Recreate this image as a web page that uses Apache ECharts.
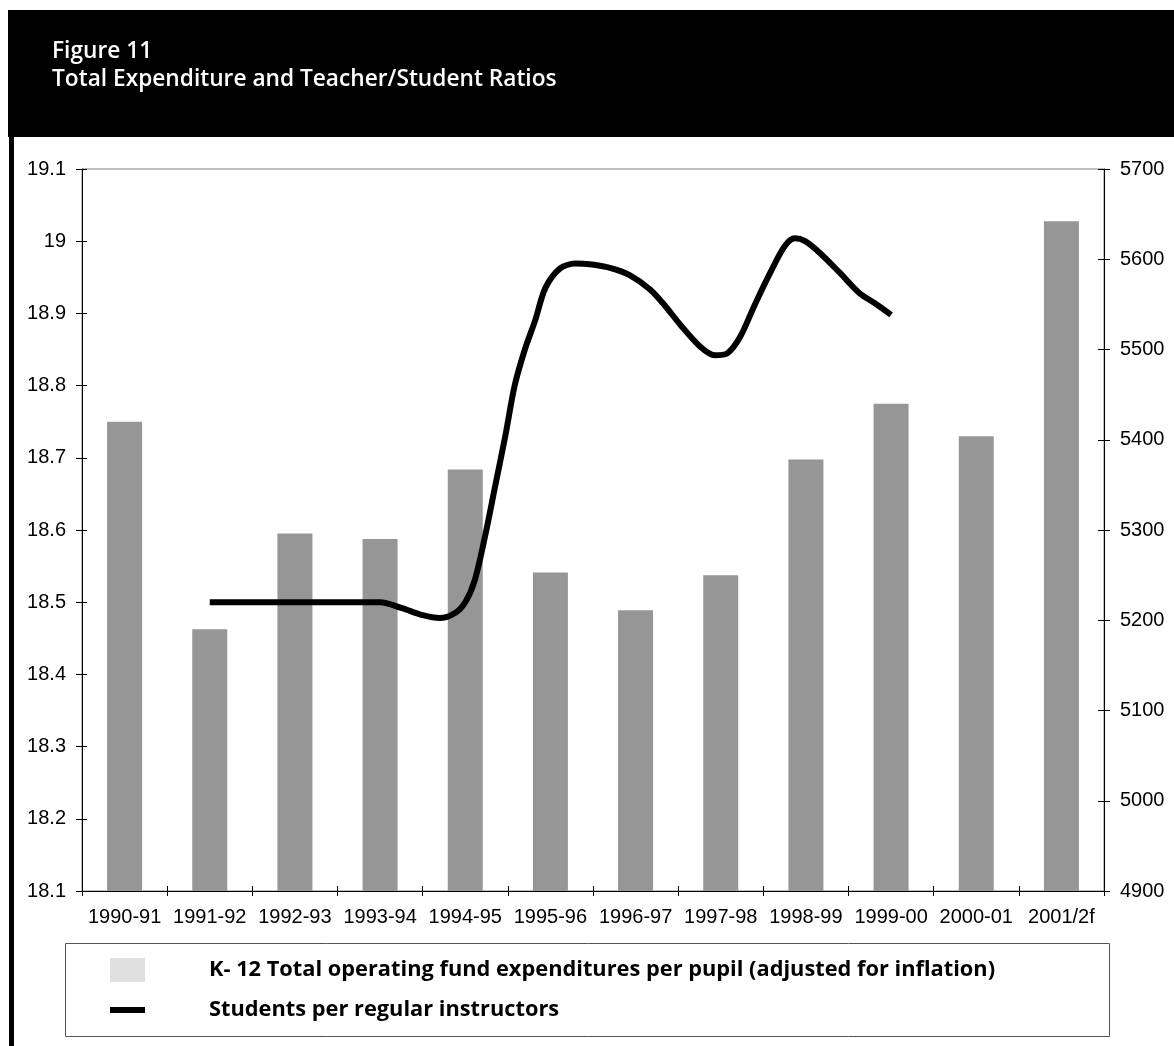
<!DOCTYPE html>
<html>
<head>
<meta charset="utf-8">
<script src="https://cdn.jsdelivr.net/npm/echarts@6/dist/echarts.min.js"></script>
<style>
html,body{margin:0;padding:0;background:#fff;}
#chart{width:1174px;height:1046px;}
</style>
</head>
<body>
<div id="chart"></div>
<script>
// ---- data ----
const categories = ['1990-91','1991-92','1992-93','1993-94','1994-95','1995-96','1996-97','1997-98','1998-99','1999-00','2000-01','2001/2f'];
const expenditure = [5420, 5190, 5296, 5290, 5367, 5253, 5211, 5250, 5378, 5440, 5404, 5642];
// students per regular instructor, traced along the category axis (position in category units, 0.5 = centre of first category)
const ratioPos = [1.5, 2.5, 3.5, 3.75, 4.0, 4.2, 4.38, 4.5, 4.61, 4.73, 4.85, 4.97, 5.08, 5.2, 5.32, 5.44, 5.61, 5.79, 5.96, 6.2, 6.43, 6.67, 6.85, 7.02, 7.25, 7.43, 7.58, 7.73, 7.9, 8.08, 8.25, 8.37, 8.49, 8.67, 8.9, 9.13, 9.31, 9.5];
const ratioVal = [18.50, 18.50, 18.50, 18.492, 18.482, 18.478, 18.485, 18.50, 18.53, 18.59, 18.66, 18.73, 18.80, 18.85, 18.89, 18.935, 18.962, 18.969, 18.968, 18.963, 18.953, 18.933, 18.91, 18.885, 18.855, 18.842, 18.845, 18.868, 18.912, 18.956, 18.993, 19.004, 19.0, 18.983, 18.956, 18.928, 18.914, 18.898];
const leftAxis = {min: 18.1, max: 19.1, interval: 0.1};
const rightAxis = {min: 4900, max: 5700, interval: 100};
const titleLines = ['Figure 11', 'Total Expenditure and Teacher/Student Ratios'];
const seriesNames = ['K- 12 Total operating fund expenditures per pupil (adjusted for inflation)', 'Students per regular instructors'];

const lineData = ratioPos.map((p, i) => [p, ratioVal[i]]);

const chart = echarts.init(document.getElementById('chart'), null, {renderer: 'canvas'});
const tickFont = {color: '#000', fontFamily: '"Liberation Sans", Arial, sans-serif', fontSize: 20};
const legendFont = {color: '#000', fontFamily: '"Open Sans", sans-serif', fontWeight: 700, fontSize: 21.8};

chart.setOption({
  animation: false,
  backgroundColor: '#fff',
  graphic: [
    {type: 'rect', z: -10, shape: {x: 8, y: 10, width: 1166, height: 127}, style: {fill: '#000'}},
    {type: 'rect', z: -10, shape: {x: 9, y: 137, width: 5, height: 909}, style: {fill: '#000'}},
    {type: 'rect', z: -5, shape: {x: 65.5, y: 943.5, width: 1044, height: 93}, style: {fill: 'none', stroke: '#555', lineWidth: 1}}
  ],
  title: {
    text: titleLines.join('\n'),
    left: 47, top: 33,
    textStyle: {color: '#fff', fontFamily: '"Open Sans", sans-serif', fontWeight: 600, fontSize: 22.7, lineHeight: 28}
  },
  legend: [
    {
      data: [{name: seriesNames[0], icon: 'rect', itemStyle: {color: '#e0e0e0'}}],
      left: 110, top: 958, itemWidth: 35, itemHeight: 24, padding: 0,
      selectedMode: false,
      textStyle: Object.assign({padding: [0, 0, 0, 59]}, legendFont)
    },
    {
      data: [{name: seriesNames[1], icon: 'rect', itemStyle: {color: '#000'}}],
      left: 110, top: 999, itemWidth: 35, itemHeight: 6, padding: 0,
      selectedMode: false,
      textStyle: Object.assign({padding: [0, 0, 0, 59]}, legendFont)
    }
  ],
  grid: {left: 82, right: 70, top: 169, bottom: 155, show: true, borderColor: '#808080', borderWidth: 1, backgroundColor: 'transparent'},
  xAxis: [
    {
      type: 'category', data: categories, position: 'bottom',
      axisLine: {lineStyle: {color: '#000', width: 1}},
      axisTick: {show: true, inside: false, length: 5, lineStyle: {color: '#000'}},
      axisLabel: Object.assign({margin: 16, interval: 0}, tickFont),
      splitLine: {show: false}
    },
    {
      type: 'category', data: categories, position: 'bottom',
      axisLine: {show: false},
      axisTick: {show: true, inside: true, length: 5, lineStyle: {color: '#000'}},
      axisLabel: {show: false}, splitLine: {show: false}
    },
    {type: 'value', min: 0, max: 12, show: false, position: 'bottom', splitLine: {show: false}}
  ],
  yAxis: [
    {
      type: 'value', position: 'left', min: leftAxis.min, max: leftAxis.max, interval: leftAxis.interval,
      axisLine: {show: true, lineStyle: {color: '#000'}},
      axisTick: {show: true, length: 6, lineStyle: {color: '#000'}},
      axisLabel: Object.assign({margin: 16}, tickFont),
      splitLine: {show: false}
    },
    {
      type: 'value', position: 'right', min: rightAxis.min, max: rightAxis.max, interval: rightAxis.interval,
      axisLine: {show: true, lineStyle: {color: '#000'}},
      axisTick: {show: true, length: 6, lineStyle: {color: '#000'}},
      axisLabel: Object.assign({margin: 16, formatter: v => String(v)}, tickFont),
      splitLine: {show: false}
    },
    {
      type: 'value', position: 'left', min: leftAxis.min, max: leftAxis.max, interval: leftAxis.interval,
      axisLine: {show: false}, axisTick: {show: true, inside: true, length: 5, lineStyle: {color: '#000'}},
      axisLabel: {show: false}, splitLine: {show: false}
    },
    {
      type: 'value', position: 'right', min: rightAxis.min, max: rightAxis.max, interval: rightAxis.interval,
      axisLine: {show: false}, axisTick: {show: true, inside: true, length: 6, lineStyle: {color: '#000'}},
      axisLabel: {show: false}, splitLine: {show: false}
    }
  ],
  series: [
    {
      name: seriesNames[0], type: 'bar', xAxisIndex: 0, yAxisIndex: 1,
      data: expenditure, barWidth: 35,
      itemStyle: {color: '#969696'}
    },
    {
      name: seriesNames[1], type: 'line', xAxisIndex: 2, yAxisIndex: 0,
      data: lineData, smooth: 0.3, showSymbol: false, symbol: 'none',
      lineStyle: {color: '#000', width: 6, cap: 'butt', join: 'round'},
      itemStyle: {color: '#000'}, z: 5
    }
  ]
});
</script>
</body>
</html>
